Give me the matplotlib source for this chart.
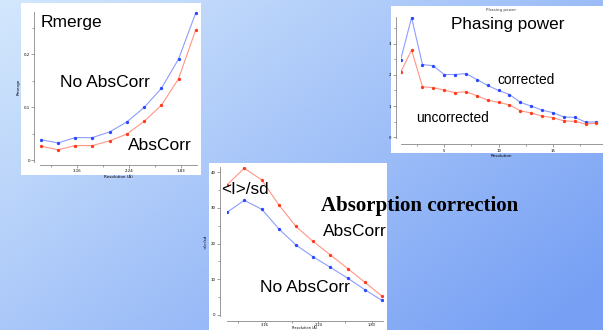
import numpy as np
import matplotlib.pyplot as plt
from matplotlib.patches import Rectangle
from matplotlib.ticker import FixedLocator, FixedFormatter

W, H = 603, 330

# resolution bins, plotted against 1/d^2
rmerge_x = [0.031, 0.064, 0.097, 0.130, 0.164, 0.197, 0.230, 0.263, 0.296, 0.329]
rmerge_noabs = [0.039, 0.033, 0.043, 0.043, 0.054, 0.073, 0.100, 0.136, 0.191, 0.278]
rmerge_abs = [0.027, 0.020, 0.028, 0.028, 0.037, 0.050, 0.074, 0.104, 0.154, 0.246]

isd_x = [0.029, 0.061, 0.094, 0.126, 0.158, 0.190, 0.222, 0.255, 0.287, 0.319]
isd_abs = [36.5, 41.1, 37.8, 30.8, 24.8, 20.6, 16.9, 13.0, 9.2, 5.3]
isd_noabs = [28.8, 32.1, 29.6, 24.1, 19.6, 16.3, 13.4, 10.3, 7.1, 4.1]

pp_x = list(range(1, 20))
pp_corr = [2.49, 3.83, 2.33, 2.29, 2.01, 2.01, 2.04, 1.85, 1.66, 1.50,
           1.37, 1.12, 1.00, 0.87, 0.79, 0.65, 0.64, 0.49, 0.49]
pp_uncorr = [2.09, 2.79, 1.62, 1.59, 1.51, 1.43, 1.46, 1.33, 1.19, 1.12,
             1.04, 0.85, 0.78, 0.68, 0.63, 0.53, 0.51, 0.43, 0.45]

res_ticks = [0.1, 0.2, 0.3]
res_labels = ['3.16', '2.24', '1.83']

BLUE, BLUE_L = '#2a46ff', '#8c9dff'
RED, RED_L = '#ff3a1c', '#ff9585'

fig = plt.figure(figsize=(W / 100, H / 100), dpi=100)

# slide background: blue gradient with white panels
bg = fig.add_axes([0, 0, 1, 1])
bg.set_xlim(0, W)
bg.set_ylim(H, 0)
bg.axis('off')
yy, xx = np.mgrid[0:1:200j, 0:1:360j]
t = np.clip(0.62 * xx + 0.45 * yy, 0, 1)[..., None]
c0 = np.array([0.83, 0.91, 0.99])
c1 = np.array([0.47, 0.63, 0.96])
bg.imshow(c0 * (1 - t) + c1 * t, extent=[0, W, H, 0], aspect='auto')
for x0, y0, x1, y1 in [(21, 3, 201, 175), (391, 6, 603, 153), (209, 163, 387, 330)]:
    bg.add_patch(Rectangle((x0, y0), x1 - x0, y1 - y0, facecolor='white', edgecolor='none'))


def px_axes(x0, y0, x1, y1):
    return fig.add_axes([x0 / W, 1 - y1 / H, (x1 - x0) / W, (y1 - y0) / H])


def style(ax, left_off, bottom_off):
    ax.patch.set_visible(False)
    for s in ['top', 'right']:
        ax.spines[s].set_visible(False)
    for s in ['left', 'bottom']:
        ax.spines[s].set_color('#888888')
        ax.spines[s].set_linewidth(0.6)
    ax.spines['left'].set_position(('outward', left_off))
    ax.spines['bottom'].set_position(('outward', bottom_off))
    ax.tick_params(which='both', labelsize=2.8, color='#777777', width=0.5, pad=1.2)
    ax.tick_params(which='major', length=2)
    ax.tick_params(which='minor', length=1.5)


def draw(ax, x, ys):
    for y, c, cl in ys:
        ax.plot(x, y, '-', color=cl, lw=0.8, zorder=2)
        ax.plot(x, y, 'o', color=c, ms=2.4, mec='none', zorder=3)


# Rmerge
ax1 = px_axes(40, 12, 196.7, 162)
draw(ax1, rmerge_x, [(rmerge_noabs, BLUE, BLUE_L), (rmerge_abs, RED, RED_L)])
ax1.set_xlim(0.0294, 0.331)
ax1.set_ylim(-0.003, 0.28)
style(ax1, 4, 2)
ax1.xaxis.set_major_locator(FixedLocator(res_ticks))
ax1.xaxis.set_major_formatter(FixedFormatter(res_labels))
ax1.xaxis.set_minor_locator(FixedLocator([0.05, 0.15, 0.25]))
ax1.yaxis.set_major_locator(FixedLocator([0, 0.1, 0.2]))
ax1.yaxis.set_major_formatter(FixedFormatter(['0', '0.1', '0.2']))
ax1.yaxis.set_minor_locator(FixedLocator([0.05, 0.15, 0.25]))
ax1.set_xlabel('Resolution (Å)', fontsize=3, labelpad=1)
ax1.set_ylabel('Rmerge', fontsize=3, labelpad=2)

# Phasing power
ax2 = px_axes(400.7, 17, 603, 138.3)
draw(ax2, pp_x, [(pp_corr, BLUE, BLUE_L), (pp_uncorr, RED, RED_L)])
ax2.set_xlim(1, 19.6)
ax2.set_ylim(-0.03, 3.85)
style(ax2, 3.4, 4.4)
ax2.xaxis.set_major_locator(FixedLocator([5, 10, 15]))
ax2.xaxis.set_minor_locator(FixedLocator([2.5, 7.5, 12.5, 17.5]))
ax2.yaxis.set_major_locator(FixedLocator([0, 1, 2, 3]))
ax2.yaxis.set_minor_locator(FixedLocator([0.5, 1.5, 2.5, 3.5]))
ax2.set_xlabel('Resolution', fontsize=3, labelpad=1)
fig.text(501 / W, 1 - 10 / H, 'Phasing power', fontsize=3, ha='center', va='center', color='#444444')

# <I>/sd
ax3 = px_axes(226.7, 166.8, 383.3, 316.4)
draw(ax3, isd_x, [(isd_noabs, BLUE, BLUE_L), (isd_abs, RED, RED_L)])
ax3.set_xlim(0.0281, 0.3218)
ax3.set_ylim(-0.4, 41.5)
style(ax3, 5, 3)
ax3.tick_params(axis='x', which='both', pad=0.3)
ax3.tick_params(axis='x', which='major', length=1.5)
ax3.tick_params(axis='x', labelsize=2.6)
ax3.xaxis.set_major_locator(FixedLocator(res_ticks))
ax3.xaxis.set_major_formatter(FixedFormatter(res_labels))
ax3.xaxis.set_minor_locator(FixedLocator([0.05, 0.15, 0.25]))
ax3.yaxis.set_major_locator(FixedLocator([0, 10, 20, 30, 40]))
ax3.yaxis.set_minor_locator(FixedLocator([5, 15, 25, 35]))
ax3.set_xlabel('Resolution (Å)', fontsize=2.5)
# keep the label inside the figure's bottom edge
ax3.xaxis.set_label_coords(0.5, -0.062)
ax3.set_ylabel('<I>/sd', fontsize=3, labelpad=2)

# slide annotations
SANS = ['Liberation Sans', 'DejaVu Sans']
notes = [
    (71, 22, 'Rmerge', 12.5),
    (105, 83, 'No AbsCorr', 12.5),
    (159.5, 145, 'AbsCorr', 12.5),
    (507.5, 25, 'Phasing power', 12.3),
    (526.5, 80, 'corrected', 9.9),
    (452.5, 118, 'uncorrected', 9.9),
    (245, 189, '<I>/sd', 12.3),
    (355, 232, 'AbsCorr', 12.5),
    (304.5, 288, 'No AbsCorr', 12.5),
]
for x, y, s, fs in notes:
    fig.text(x / W, 1 - y / H, s, fontsize=fs, family=SANS, ha='center', va='center', color='black')

fig.text(419.5 / W, 1 - 206 / H, 'Absorption correction', fontsize=15, weight='bold',
         family=['Liberation Serif', 'DejaVu Serif'], ha='center', va='center', color='black')

fig.savefig('out.png', dpi=100)
